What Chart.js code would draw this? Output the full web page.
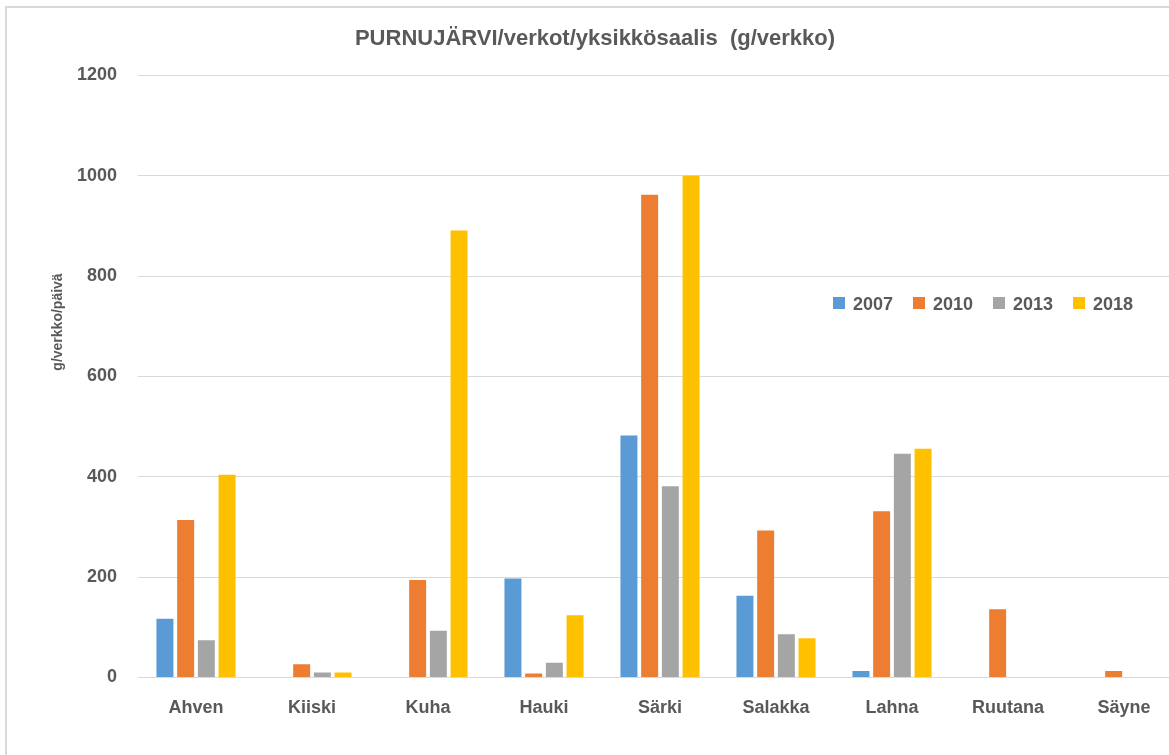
<!DOCTYPE html>
<html>
<head>
<meta charset="utf-8">
<script src="https://cdn.jsdelivr.net/npm/chart.js@4"></script>
<style>
  html, body { margin: 0; padding: 0; background: #fff; overflow: hidden; width: 1169px; height: 755px; }
  #wrap { position: absolute; left: 0; top: 0; width: 1185px; height: 755px; }
  #frame { position: absolute; left: 5px; top: 6px; width: 1200px; height: 800px; border-left: 2px solid #d9d9d9; border-top: 2px solid #d9d9d9; box-sizing: border-box; pointer-events: none; }
  #ytitle { position: absolute; left: 57px; top: 322px; transform: translate(-50%, -50%) rotate(-90deg); font: bold 14px "Liberation Sans", Arial, sans-serif; color: #595959; white-space: nowrap; }
  #legend { position: absolute; left: 833px; top: 292px; font: bold 18px "Liberation Sans", Arial, sans-serif; color: #595959; white-space: nowrap; }
  .li { position: absolute; top: 0; height: 24px; line-height: 24px; }
  .sw { display: inline-block; width: 12px; height: 12px; vertical-align: middle; margin-right: 8px; position: relative; top: -2px; }
</style>
</head>
<body>
<div id="wrap">
  <canvas id="c" width="1185" height="755"></canvas>
  <div id="frame"></div>
  <div id="ytitle">g/verkko/päivä</div>
  <div id="legend"></div>
</div>
<script>
const categories = ["Ahven", "Kiiski", "Kuha", "Hauki", "Särki", "Salakka", "Lahna", "Ruutana", "Säyne"];
const seriesNames = ["2007", "2010", "2013", "2018"];
const v2007 = [117, 0, 0, 197, 482, 163, 13, 0, 0];
const v2010 = [314, 26, 194, 8, 962, 293, 331, 136, 13];
const v2013 = [74, 10, 93, 29, 381, 86, 446, 0, 0];
const v2018 = [404, 10, 891, 124, 1000, 78, 456, 0, 0];
const colors = ["#5B9BD5", "#ED7D31", "#A5A5A5", "#FFC000"];
const yTicks = [0, 200, 400, 600, 800, 1000, 1200];

const values = [v2007, v2010, v2013, v2018];
const textColor = "#595959";
const fontFam = '"Liberation Sans", Arial, sans-serif';

// HTML legend
const lg = document.getElementById('legend');
seriesNames.forEach((n, i) => {
  const d = document.createElement('div');
  d.className = 'li';
  d.style.left = (i * 80) + 'px';
  d.innerHTML = '<span class="sw" style="background:' + colors[i] + '"></span>' + n;
  lg.appendChild(d);
});

new Chart(document.getElementById('c'), {
  type: 'bar',
  data: {
    labels: categories,
    datasets: seriesNames.map((n, i) => ({
      label: n,
      data: values[i],
      backgroundColor: colors[i],
      borderWidth: 0,
      categoryPercentage: 0.714,
      barPercentage: 0.82
    }))
  },
  options: {
    responsive: false,
    animation: false,
    layout: { padding: { left: 8, right: 3, top: 0, bottom: 16 } },
    plugins: {
      legend: { display: false },
      tooltip: { enabled: false },
      title: {
        display: true,
        text: 'PURNUJÄRVI/verkot/yksikkösaalis  (g/verkko)',
        color: textColor,
        font: { family: fontFam, size: 22, weight: 'bold' },
        padding: { top: 26, bottom: 23 }
      }
    },
    scales: {
      x: {
        grid: { display: false, drawTicks: false },
        border: { display: true, color: '#d9d9d9', width: 1 },
        ticks: { color: textColor, font: { family: fontFam, size: 18, weight: 'bold' }, padding: 20, maxRotation: 0 }
      },
      y: {
        min: 0, max: 1200,
        afterFit(scale) { scale.width = 130; },
        afterBuildTicks(scale) { scale.ticks = yTicks.map(v => ({ value: v })); },
        grid: { color: '#d9d9d9', lineWidth: 1, drawTicks: false },
        border: { display: false },
        ticks: { color: textColor, font: { family: fontFam, size: 18, weight: 'bold' }, padding: 21, callback: v => String(v) }
      }
    }
  }
});
</script>
</body>
</html>
